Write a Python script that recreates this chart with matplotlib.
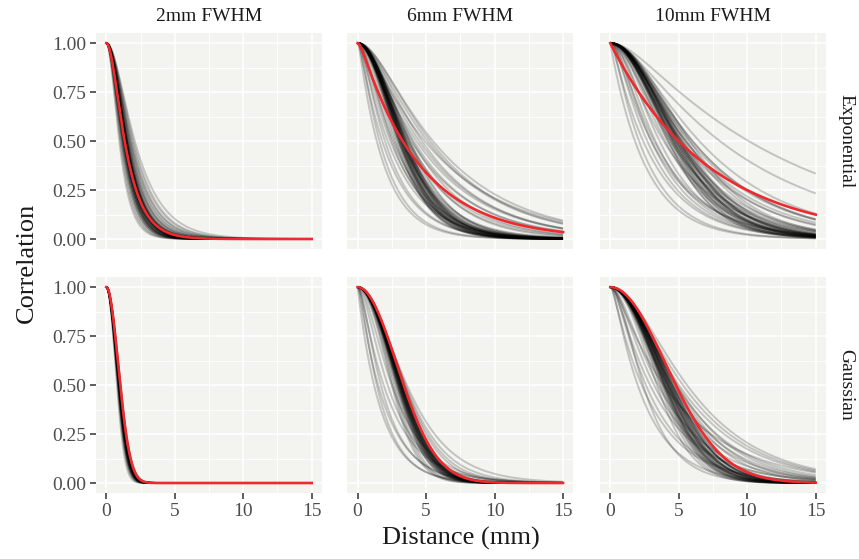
import numpy as np
import matplotlib
matplotlib.use("Agg")
import matplotlib.pyplot as plt

plt.rcParams['font.family'] = ['Liberation Serif', 'DejaVu Serif']

# ---------------- data ----------------
kernels = ["Exponential", "Gaussian"]
fwhm_labels = ["2mm FWHM", "6mm FWHM", "10mm FWHM"]
x_ticks = [0, 5, 10, 15]
x_tick_labels = ["0", "5", "10", "15"]
y_ticks = [0.00, 0.25, 0.50, 0.75, 1.00]
y_tick_labels = ["0.00", "0.25", "0.50", "0.75", "1.00"]
x_label = "Distance (mm)"
y_label = "Correlation"

# Each curve: distance where correlation falls to 0.5 ("half") and shoulder width ("shape")
# Red reference curves
red_half = [1.34, 3.29, 4.99, 1.02, 3.37, 4.78]
red_shape = [0.8, 0.25, 0.0, 20.0, 20.0, 20.0]

# Gray curves: Exponential, 2mm
exp_2mm_half = [0.95, 1.02, 1.08, 1.12, 1.15, 1.18, 1.2, 1.22, 1.24, 1.26, 1.28, 1.3, 1.31, 1.33,
                1.35, 1.36, 1.38, 1.4, 1.41, 1.43, 1.45, 1.47, 1.49, 1.5, 1.52, 1.55, 1.57, 1.6,
                1.63, 1.66, 1.7, 1.74, 1.78, 1.83, 1.9, 1.98, 2.08, 1.34, 1.39, 1.44,
                1.3, 1.33, 1.36, 1.38, 1.4, 1.42, 1.44, 1.46, 1.48, 1.5, 1.35, 1.45, 1.52, 1.27]
exp_2mm_shape = [0.7, 0.8, 0.9, 0.85, 1.0, 0.9, 1.1, 0.95, 1.0, 1.2, 0.9, 1.05, 1.15, 1.0,
                 1.1, 0.95, 1.2, 1.0, 1.1, 1.25, 1.0, 1.15, 1.05, 1.3, 1.1, 1.2, 1.0, 1.25,
                 1.1, 1.3, 1.15, 1.2, 1.1, 1.25, 1.2, 1.3, 1.2, 0.9, 1.0, 1.1,
                 1.2, 1.3, 1.1, 1.25, 1.15, 1.3, 1.2, 1.1, 1.3, 1.2, 1.4, 1.35, 1.25, 1.3]

# Exponential, 6mm
exp_6mm_half = [2.9, 3.0, 3.05, 3.1, 3.15, 3.2, 3.25, 3.3, 3.3, 3.35, 3.4, 3.45, 3.5, 3.6, 3.7, 3.8,
                3.0, 3.1, 3.2, 3.25, 3.35, 3.4, 3.5, 3.55, 3.15, 3.45,
                3.0, 3.2, 3.4, 3.6, 3.8, 4.0, 3.3, 3.7,
                1.4, 1.6, 1.8, 2.0, 2.2, 2.4,
                2.5, 2.7, 2.6, 2.8,
                3.9, 4.1, 4.3, 4.5, 4.7, 4.9, 5.1, 5.3, 5.5]
exp_6mm_shape = [3.5, 4.0, 3.2, 3.8, 4.2, 3.6, 4.0, 3.9, 3.4, 4.3, 3.7, 4.1, 3.6, 4.0, 3.8, 4.4,
                 3.8, 4.2, 3.9, 4.5, 3.6, 4.4, 4.0, 4.6, 3.7, 4.2,
                 2.0, 1.8, 2.2, 1.6, 2.4, 2.0, 2.6, 1.5,
                 0.1, 0.3, 0.2, 0.5, 0.4, 0.6,
                 1.0, 1.5, 0.8, 2.5,
                 1.0, 1.5, 1.2, 1.5, 2.0, 1.0, 1.8, 2.2, 2.0]

# Exponential, 10mm
exp_10mm_half = [4.2, 4.4, 4.5, 4.6, 4.7, 4.8, 4.9, 5.0, 5.0, 5.1, 5.2, 5.4, 5.6, 5.8,
                 4.3, 4.5, 4.7, 4.9, 5.1, 5.3, 4.6, 4.8, 5.0, 5.2,
                 4.0, 4.2, 4.4, 4.6, 4.8, 5.0, 5.2, 5.5, 5.8, 6.0,
                 1.8, 2.1, 2.4, 2.7, 3.0, 3.2,
                 3.0, 3.3, 3.6, 3.9,
                 5.5, 6.0, 6.5, 8.0, 10.1]
exp_10mm_shape = [5.0, 6.0, 5.5, 6.5, 5.0, 6.0, 7.0, 5.5, 6.5, 6.0, 5.0, 7.0, 6.0, 6.5,
                  6.5, 7.0, 6.0, 7.5, 6.5, 7.0, 5.5, 7.0, 6.0, 7.5,
                  2.5, 3.0, 2.0, 3.5, 2.8, 3.0, 2.2, 3.2, 2.6, 3.0,
                  0.0, 0.3, 0.2, 0.6, 0.5, 0.8,
                  1.0, 1.5, 2.0, 1.2,
                  2.5, 3.0, 3.0, 2.0, 2.0]

# Gaussian, 2mm
gau_2mm_half = [0.78, 0.82, 0.85, 0.87, 0.88, 0.89, 0.9, 0.91, 0.92, 0.92, 0.93, 0.93, 0.94, 0.94,
                0.95, 0.95, 0.96, 0.96, 0.97, 0.97, 0.98, 0.98, 0.99, 0.99, 1.0, 1.0, 1.01, 1.02,
                1.03, 1.04, 0.9, 0.93, 0.95, 0.97, 0.99, 0.86, 0.96, 0.98, 1.0, 0.97]
gau_2mm_shape = [10.0] * 40

# Gaussian, 6mm
gau_6mm_half = [2.5, 2.6, 2.7, 2.8, 2.85, 2.9, 2.92, 2.95, 2.97, 3.0, 3.0, 3.02, 3.05, 3.05,
                3.07, 3.1, 3.1, 3.12, 3.15, 3.15, 3.17, 3.2, 3.2, 3.22, 3.25, 3.25, 3.28, 3.3,
                3.3, 3.32, 3.35, 3.1, 3.18, 3.23, 3.4, 3.45, 3.5, 3.6,
                1.2, 1.4, 1.5, 1.7, 1.9, 2.2, 2.5]
gau_6mm_shape = [8, 10, 12, 8, 15, 20, 10, 12, 20, 15, 8, 20, 12, 15,
                 10, 20, 8, 15, 12, 20, 10, 15, 20, 12, 8, 20, 15, 12,
                 20, 10, 15, 20, 20, 12, 6, 5, 4, 3,
                 0.0, 0.3, 0.1, 0.5, 0.3, 0.8, 1.2]

# Gaussian, 10mm
gau_10mm_half = [3.4, 3.6, 3.7, 3.8, 3.85, 3.9, 3.95, 4.0, 4.0, 4.05, 4.1, 4.1, 4.15, 4.2,
                 4.2, 4.25, 4.3, 4.3, 4.35, 4.4, 4.4, 4.45, 4.5, 4.5, 4.55, 4.6, 4.7, 4.8,
                 3.9, 4.0, 4.2, 4.35, 4.6, 4.9,
                 4.5, 4.8, 5.0, 5.3, 5.6, 4.2,
                 2.0, 2.3, 2.6, 2.9, 3.2, 3.5, 3.9, 2.4]
gau_10mm_shape = [8, 12, 10, 20, 15, 9, 20, 12, 10, 20, 8, 15, 20, 12,
                  10, 20, 15, 12, 8, 10, 20, 12, 15, 8, 20, 10, 6, 5,
                  20, 20, 20, 20, 20, 4,
                  3.0, 3.0, 2.5, 3.0, 3.5, 2.5,
                  0.3, 0.2, 0.6, 0.5, 1.0, 1.2, 0.5, 1.5]

gray_half = [[exp_2mm_half, exp_6mm_half, exp_10mm_half],
             [gau_2mm_half, gau_6mm_half, gau_10mm_half]]
gray_shape = [[exp_2mm_shape, exp_6mm_shape, exp_10mm_shape],
              [gau_2mm_shape, gau_6mm_shape, gau_10mm_shape]]

distance = np.linspace(0, 15, 301)


def correlation(d, half, shape):
    tail = (np.sqrt(shape ** 2 + half ** 2) - shape) / np.log(2)
    return np.exp(-(np.sqrt(shape ** 2 + d ** 2) - shape) / tail)


# ---------------- layout ----------------
W, H = 859, 559
fig = plt.figure(figsize=(W / 100, H / 100), dpi=100)
fig.patch.set_facecolor('white')

col_left = [96, 347.3, 600]
panel_w = 226
row_top = [33.3, 277.3]
panel_h = 215.5

panel_bg = '#F3F3EF'
tick_col = '#333333'
label_col = '#4D4D4D'
text_col = '#1A1A1A'

for r in range(2):
    for c in range(3):
        ax = fig.add_axes([col_left[c] / W, 1 - (row_top[r] + panel_h) / H,
                           panel_w / W, panel_h / H])
        ax.set_facecolor(panel_bg)
        for s in ax.spines.values():
            s.set_visible(False)
        ax.set_xlim(-0.75, 15.75)
        ax.set_ylim(-0.05, 1.05)
        ax.set_xticks(x_ticks)
        ax.set_xticklabels(x_tick_labels)
        ax.set_yticks(y_ticks)
        ax.set_yticklabels(y_tick_labels)
        ax.set_xticks([2.5, 7.5, 12.5], minor=True)
        ax.set_yticks([0.125, 0.375, 0.625, 0.875], minor=True)
        ax.grid(which='major', color='white', lw=1.1)
        ax.grid(which='minor', color='white', lw=0.6)
        ax.set_axisbelow(True)
        ax.tick_params(which='minor', length=0)
        ax.tick_params(which='major', length=4, width=1.1, color=tick_col,
                       labelcolor=label_col, labelsize=14, pad=3)
        if c > 0:
            ax.tick_params(left=False, labelleft=False)
        if r == 0:
            ax.tick_params(bottom=False, labelbottom=False)

        for h, sh in zip(gray_half[r][c], gray_shape[r][c]):
            ax.plot(distance, correlation(distance, h, sh), color='black',
                    alpha=0.2, lw=1.4, solid_capstyle='butt')
        k = r * 3 + c
        ax.plot(distance, correlation(distance, red_half[k], red_shape[k]),
                color='#EE2A2E', lw=1.9)

        if r == 0:
            ax.annotate(fwhm_labels[c], xy=(0.5, 1), xycoords='axes fraction',
                        xytext=(0, 8.5), textcoords='offset points',
                        ha='center', va='baseline', fontsize=14, color=text_col)
        if c == 2:
            ax.annotate(kernels[r], xy=(1, 0.5), xycoords='axes fraction',
                        xytext=(14, 0), textcoords='offset points', rotation=-90,
                        ha='center', va='center', fontsize=14, color=text_col)

fig.text(27 / W, 1 - 262.7 / H, y_label, rotation=90, ha='center', va='center',
         fontsize=19, color=text_col)
fig.text(461 / W, 1 - 538 / H, x_label, ha='center', va='center',
         fontsize=19, color=text_col)

fig.savefig('out.png', dpi=100)
